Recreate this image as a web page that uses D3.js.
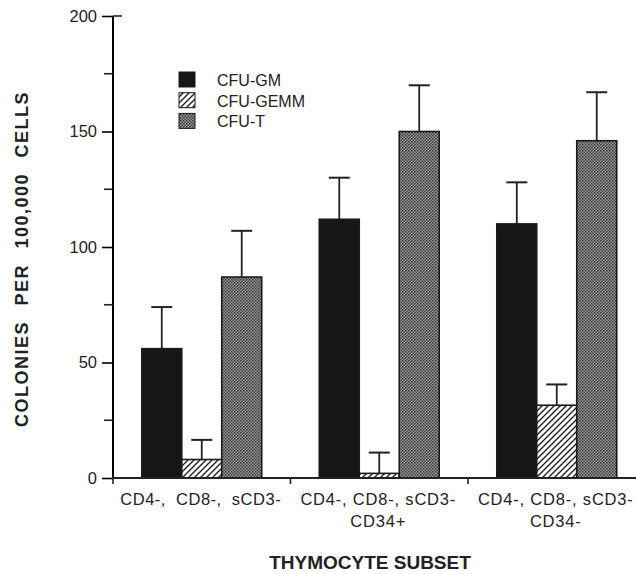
<!DOCTYPE html>
<html>
<head>
<meta charset="utf-8">
<script src="https://cdn.jsdelivr.net/npm/d3@7"></script>
<style>
  body { margin: 0; background: #fff; }
  text { font-family: "Liberation Sans", Arial, sans-serif; fill: #222; }
</style>
</head>
<body>
<div id="chart"></div>
<script>
// data
var groups = ["g1", "g2", "g3"]
var groupLines = [["CD4-,  CD8-,  sCD3-"], ["CD4-, CD8-, sCD3-", "CD34+"], ["CD4-, CD8-, sCD3-", "CD34-"]]
var series = ["CFU-GM", "CFU-GEMM", "CFU-T"]
var gmMean = [56, 112, 110]
var gmErr = [74, 130, 128]
var gemmMean = [8, 2, 31.5]
var gemmErr = [16.5, 11, 40.5]
var tMean = [87, 150, 146]
var tErr = [107, 170, 167]
var yTicks = [0, 50, 100, 150, 200]
var yMinor = [25, 75, 125, 175]

var means = [gmMean, gemmMean, tMean]
var errs = [gmErr, gemmErr, tErr]

var W = 636, H = 574
var x0 = 113, x1 = 645.5, yTop = 16, yBot = 478

var svg = d3.select("#chart").append("svg")
  .attr("width", W).attr("height", H)

// patterns
var defs = svg.append("defs")
var hatch = defs.append("pattern").attr("id", "hatch")
  .attr("patternUnits", "userSpaceOnUse").attr("width", 6).attr("height", 6)
hatch.append("rect").attr("width", 6).attr("height", 6).attr("fill", "#fff")
hatch.append("path").attr("d", "M-1,1 l2,-2 M0,6 l6,-6 M5,7 l2,-2")
  .attr("stroke", "#222").attr("stroke-width", 1.4)
var cross = defs.append("pattern").attr("id", "cross")
  .attr("patternUnits", "userSpaceOnUse").attr("width", 3).attr("height", 3)
cross.append("rect").attr("width", 3).attr("height", 3).attr("fill", "#9a9a9a")
cross.append("rect").attr("width", 1.5).attr("height", 1.5).attr("fill", "#333")
cross.append("rect").attr("x", 1.5).attr("y", 1.5).attr("width", 1.5).attr("height", 1.5).attr("fill", "#444")
var fills = ["#161616", "url(#hatch)", "url(#cross)"]

var x = d3.scaleBand().domain(groups).range([x0, x1])
var xs = d3.scaleBand().domain(series).range([0, x.bandwidth()]).paddingInner(0).paddingOuter(0.72)
var y = d3.scaleLinear().domain([0, 200]).range([yBot, yTop])

// y axis
svg.append("g")
  .attr("transform", "translate(" + x0 + ",0)")
  .call(d3.axisLeft(y).tickValues(yTicks).tickSize(11).tickPadding(5))
  .call(g => g.select(".domain").attr("stroke-width", 2).attr("d", "M0," + yBot + "V" + yTop))
  .call(g => g.selectAll("text").style("font-size", "16.5px").attr("fill", "#333"))
  .call(g => g.selectAll(".tick line").attr("stroke-width", 1.6))
svg.append("line")
  .attr("x1", x0).attr("x2", x0 + 9).attr("y1", y(200)).attr("y2", y(200))
  .attr("stroke", "#222").attr("stroke-width", 1.6)
svg.append("g").selectAll("line").data(yMinor).enter().append("line")
  .attr("x1", x0 - 9).attr("x2", x0)
  .attr("y1", d => y(d)).attr("y2", d => y(d))
  .attr("stroke", "#222").attr("stroke-width", 1.6)

// bars
var g = svg.append("g")
series.forEach(function (s, si) {
  groups.forEach(function (gr, gi) {
    var bx = x(gr) + xs(s), bw = xs.bandwidth(), cx = bx + bw / 2
    g.append("line")
      .attr("x1", cx).attr("x2", cx)
      .attr("y1", y(means[si][gi])).attr("y2", y(errs[si][gi]))
      .attr("stroke", "#222").attr("stroke-width", 1.8)
    g.append("line")
      .attr("x1", cx - 10.5).attr("x2", cx + 10.5)
      .attr("y1", y(errs[si][gi])).attr("y2", y(errs[si][gi]))
      .attr("stroke", "#222").attr("stroke-width", 2)
    g.append("rect")
      .attr("x", bx).attr("width", bw)
      .attr("y", y(means[si][gi])).attr("height", y(0) - y(means[si][gi]))
      .attr("fill", fills[si]).attr("stroke", "#1a1a1a").attr("stroke-width", 1.6)
  })
})

// x axis
svg.append("line")
  .attr("x1", x0 - 1).attr("x2", W).attr("y1", yBot).attr("y2", yBot)
  .attr("stroke", "#222").attr("stroke-width", 2)
svg.append("g").selectAll("line").data(groups).enter().append("line")
  .attr("x1", d => x(d)).attr("x2", d => x(d))
  .attr("y1", yBot).attr("y2", yBot + 6)
  .attr("stroke", "#222").attr("stroke-width", 1.6)

// category labels
groups.forEach(function (gr, gi) {
  var cx = x(gr) + x.bandwidth() / 2 - 1
  var t = svg.append("text")
    .attr("text-anchor", "middle")
    .attr("x", cx)
    .attr("y", 505)
    .style("font-size", "16.5px")
    .style("letter-spacing", gi ? "0.8px" : "0.5px")
    .style("white-space", "pre")
    .attr("fill", "#333")
  groupLines[gi].forEach(function (l, li) {
    t.append("tspan").attr("x", cx).attr("dy", li ? 22 : 0).text(l)
  })
})

// axis titles
svg.append("text")
  .attr("text-anchor", "middle")
  .attr("x", 370).attr("y", 569)
  .style("font-size", "19px").style("font-weight", "bold")
  .text("THYMOCYTE SUBSET")
svg.append("text")
  .attr("text-anchor", "middle")
  .attr("transform", "translate(28,259) rotate(-90)")
  .style("font-size", "18px").style("font-weight", "bold")
  .style("letter-spacing", "1.5px").style("word-spacing", "9px")
  .text("COLONIES PER 100,000 CELLS")

// legend
var leg = svg.append("g")
series.forEach(function (s, i) {
  var ly = 72 + i * 20.7
  leg.append("rect").attr("x", 179).attr("y", ly).attr("width", 16).attr("height", 15)
    .attr("fill", fills[i]).attr("stroke", "#1a1a1a").attr("stroke-width", 1)
  leg.append("text").attr("x", 217).attr("y", ly + 14)
    .style("font-size", "16px").attr("fill", "#333").text(s)
})
</script>
</body>
</html>
